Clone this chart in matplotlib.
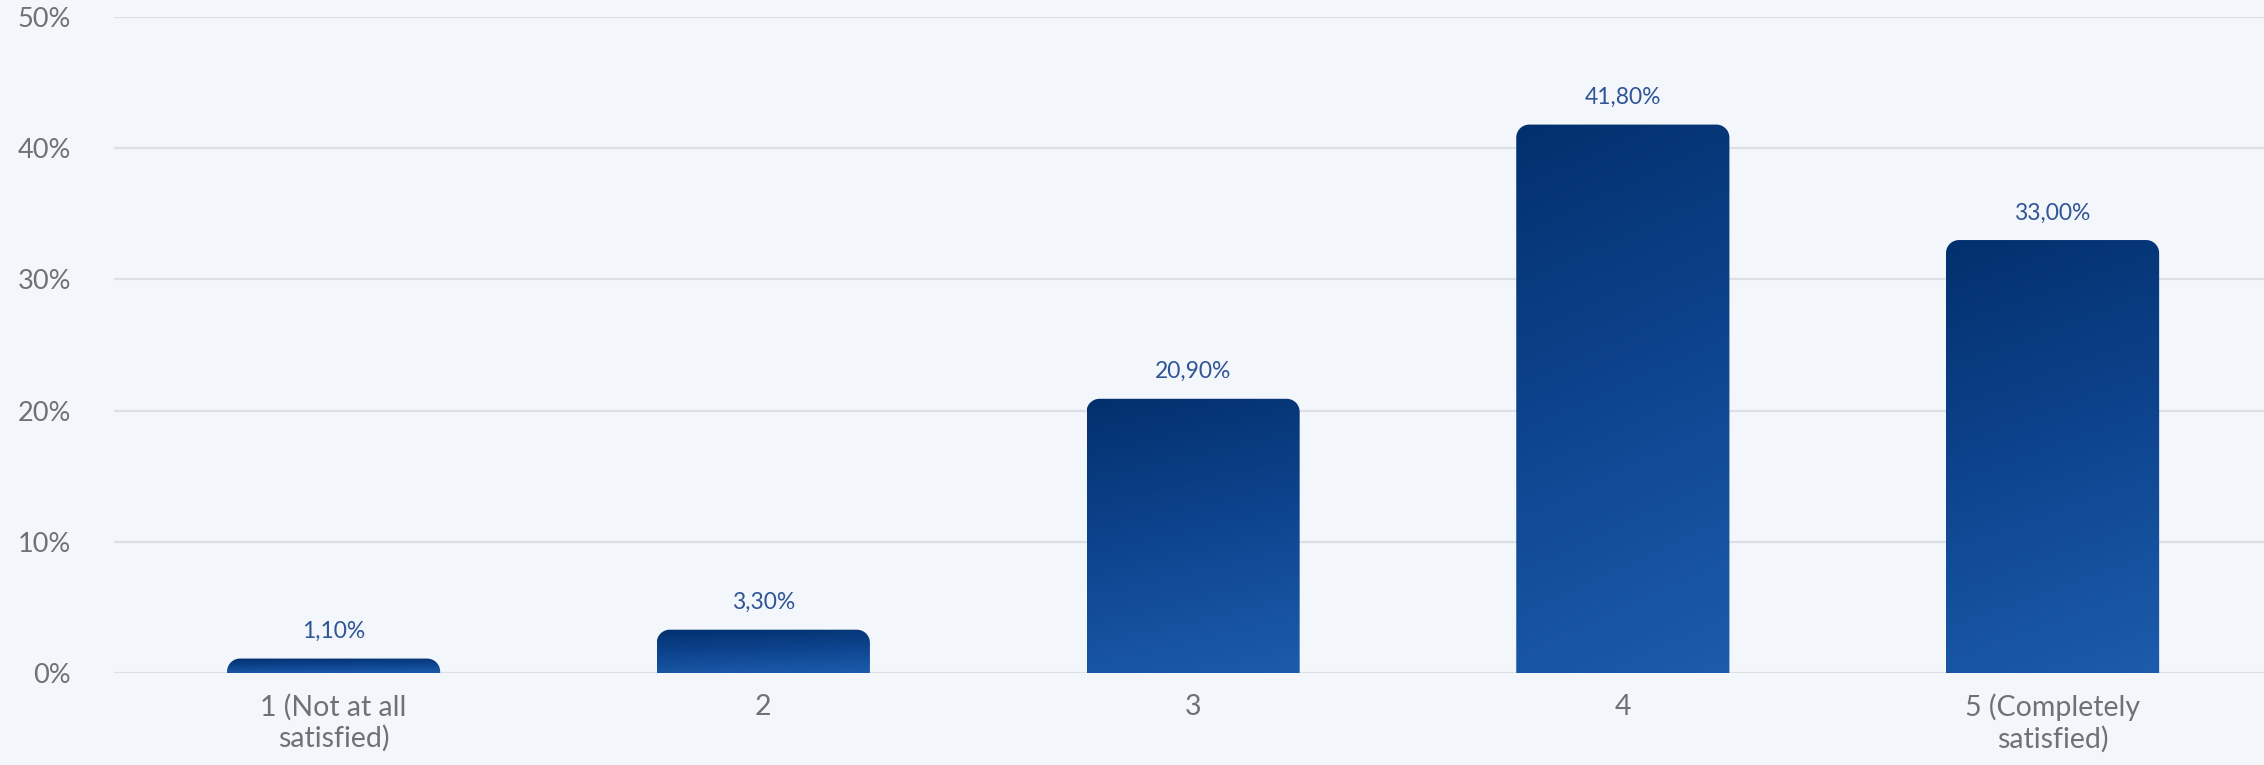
import numpy as np
import matplotlib.pyplot as plt
from matplotlib.path import Path
from matplotlib.patches import PathPatch
from matplotlib.colors import LinearSegmentedColormap

categories = ['1 (Not at all\nsatisfied)', '2', '3', '4', '5 (Completely\nsatisfied)']
shares = [1.10, 3.30, 20.90, 41.80, 33.00]
yticks = [0, 10, 20, 30, 40, 50]

plt.rcParams['font.family'] = ['Lato', 'DejaVu Sans']

fig = plt.figure(figsize=(22.64, 7.65), dpi=100, facecolor='#f3f6fa')
ax = fig.add_axes([114 / 2264, 92 / 765, 1 - 114 / 2264, (673 - 17) / 765])
ax.set_facecolor('none')

x = np.arange(len(categories))
ax.set_xlim(-0.511, 4.492)
ax.set_ylim(0, 50)

# grid lines behind the bars
ax.set_yticks(yticks)
ax.set_yticklabels([f'{t}%' for t in yticks])
ax.grid(axis='y', color='#dcdfe4', linewidth=1.6, zorder=0)
ax.set_axisbelow(True)
for s in ax.spines.values():
    s.set_visible(False)
ax.tick_params(axis='y', length=0, pad=31, labelsize=19.5, labelcolor='#6f7177')
ax.tick_params(axis='x', length=0, pad=15, labelsize=20.5, labelcolor='#6f7177')
ax.set_xticks(x)
ax.set_xticklabels(categories, linespacing=1.2)

bars = ax.bar(x, shares, width=0.496, color='none', edgecolor='none', zorder=2)

cmap = LinearSegmentedColormap.from_list('bluegrad', ['#02306d', '#0e4590', '#1c5cab'])
# diagonal gradient image: darker at the top-left, lighter at the bottom-right
gy, gx = np.mgrid[0:1:200j, 0:1:60j]
grad = 0.85 * gy + 0.15 * gx

rx = 13 / 429.75
ry = 13 / 13.12

for b, v in zip(bars, shares):
    x0, w, h = b.get_x(), b.get_width(), b.get_height()
    r_y = min(ry, h)
    t = np.linspace(0, np.pi / 2, 12)
    verts = [(x0, 0), (x0, h - r_y)]
    verts += [(x0 + rx - rx * np.cos(a), h - r_y + r_y * np.sin(a)) for a in t]
    verts += [(x0 + w - rx + rx * np.sin(a), h - r_y + r_y * np.cos(a)) for a in t]
    verts += [(x0 + w, 0), (x0, 0)]
    clip = PathPatch(Path(verts), facecolor='none', edgecolor='none', transform=ax.transData)
    ax.add_patch(clip)
    im = ax.imshow(grad, cmap=cmap, extent=(x0, x0 + w, 0, h), origin='upper',
                   aspect='auto', zorder=2, interpolation='bilinear')
    im.set_clip_path(clip)
    ax.annotate(f'{v:.2f}%'.replace('.', ','), (b.get_x() + w / 2, h),
                xytext=(0, 12), textcoords='offset points', ha='center', va='bottom',
                fontsize=16.5, color='#2f5597', zorder=3)

ax.set_xlim(-0.511, 4.492)
ax.set_ylim(0, 50)

fig.savefig('out.png', dpi=100, facecolor=fig.get_facecolor())
